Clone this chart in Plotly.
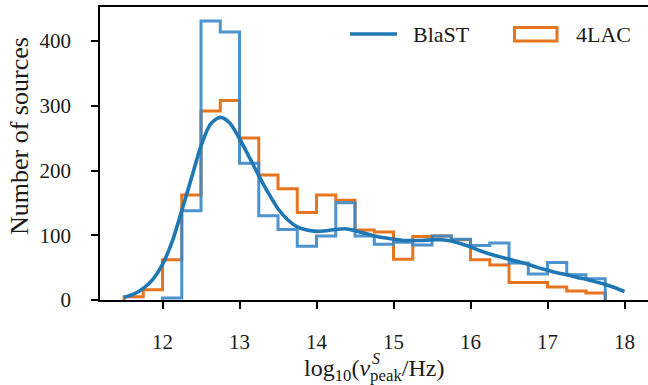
import plotly.graph_objects as go

# Histogram bins (width 0.25 in log10 frequency)
BIN_WIDTH = 0.25

blast_start = 12.0
blast_counts = [3, 138, 431, 414, 211, 130, 109, 83, 99, 150, 99, 86,
                89, 85, 99, 94, 84, 88, 57, 40, 58, 39, 33]

lac_start = 11.5
lac_counts = [5, 16, 62, 162, 292, 308, 250, 193, 172, 135, 162, 154,
              108, 105, 63, 98, 99, 93, 62, 54, 27, 27, 20, 14, 11]

# Smooth density estimate of the BlaST sample (scaled to counts), 0.125 grid
kde_x = [11.5, 11.625, 11.75, 11.875, 12.0, 12.125, 12.25, 12.375, 12.5, 12.625,
         12.75, 12.875, 13.0, 13.125, 13.25, 13.375, 13.5, 13.625, 13.75, 13.875,
         14.0, 14.125, 14.25, 14.375, 14.5, 14.625, 14.75, 14.875, 15.0, 15.125,
         15.25, 15.375, 15.5, 15.625, 15.75, 15.875, 16.0, 16.125, 16.25, 16.375,
         16.5, 16.625, 16.75, 16.875, 17.0, 17.125, 17.25, 17.375, 17.5, 17.625,
         17.75, 17.875, 18.0]
kde_y = [4, 9, 18, 32, 55, 90, 138, 188, 238, 272,
         282, 273, 249, 221, 192, 165, 141, 124, 113, 108,
         106, 107, 109, 110, 107, 103, 99, 96, 94, 92,
         92, 92, 93, 93, 91, 87, 82, 76, 71, 67,
         63, 59, 55, 50, 46, 42, 39, 35, 32, 28,
         24, 19, 13]

x_ticks = [12, 13, 14, 15, 16, 17, 18]
y_ticks = [0, 100, 200, 300, 400]

BLUE = "#1f77b4"
BLUE_HIST = "#3a88c9"
ORANGE = "#e7741f"
FONT = "Liberation Serif"
TXT = "#1a1a1a"

W, H = 648, 385
ML, MR, MT, MB = 100, 0, 7, 85
PW, PH = W - ML - MR, H - MT - MB


def px_x(p):
    return (p - ML) / PW


def px_y(p):
    return (H - MB - p) / PH


def step_outline(start, counts, width):
    xs, ys = [start], [0]
    for i, c in enumerate(counts):
        x0 = start + i * width
        xs += [x0, x0 + width]
        ys += [c, c]
    xs.append(start + len(counts) * width)
    ys.append(0)
    return xs, ys


fig = go.Figure()

lx, ly = step_outline(lac_start, lac_counts, BIN_WIDTH)
fig.add_trace(go.Scatter(x=lx, y=ly, mode="lines", name="4LAC",
                         line=dict(color=ORANGE, width=3), showlegend=False))

bx, by = step_outline(blast_start, blast_counts, BIN_WIDTH)
fig.add_trace(go.Scatter(x=bx, y=by, mode="lines", opacity=0.9,
                         line=dict(color=BLUE_HIST, width=3), showlegend=False))

fig.add_trace(go.Scatter(x=kde_x, y=kde_y, mode="lines", name="BlaST",
                         line=dict(color=BLUE, width=3.6, shape="spline", smoothing=0.8),
                         showlegend=False))

# Legend drawn by hand: line sample for BlaST, outlined patch for 4LAC
shapes = [
    dict(type="line", xref="paper", yref="paper",
         x0=px_x(350), x1=px_x(397), y0=px_y(34), y1=px_y(34),
         line=dict(color=BLUE, width=3.6)),
    dict(type="rect", xref="paper", yref="paper",
         x0=px_x(514.5), x1=px_x(557), y0=px_y(27.5), y1=px_y(41),
         line=dict(color=ORANGE, width=3), fillcolor="white"),
]

annotations = [
    dict(text="BlaST", x=px_x(411), y=px_y(34), xref="paper", yref="paper",
         xanchor="left", yanchor="middle", showarrow=False,
         font=dict(family=FONT, size=22, color=TXT)),
    dict(text="4LAC", x=px_x(574), y=px_y(34), xref="paper", yref="paper",
         xanchor="left", yanchor="middle", showarrow=False,
         font=dict(family=FONT, size=22, color=TXT)),
    dict(text="Number of sources", x=px_x(19), y=px_y(136), xref="paper", yref="paper",
         xanchor="center", yanchor="middle", textangle=-90, showarrow=False,
         font=dict(family=FONT, size=26, color=TXT)),
    # x-axis label: log10(nu_peak/Hz), superscript S added separately above nu
    dict(text="log<sub>10</sub>(<i>ν</i><sub>peak</sub>/Hz)",
         x=px_x(374), y=px_y(353), xref="paper", yref="paper",
         xanchor="center", yanchor="top", showarrow=False,
         font=dict(family=FONT, size=24, color=TXT)),
    dict(text="<i>S</i>", x=px_x(370), y=px_y(358.5), xref="paper", yref="paper",
         xanchor="left", yanchor="middle", showarrow=False,
         font=dict(family=FONT, size=16, color=TXT)),
]

axis_common = dict(
    showgrid=False, zeroline=False, showline=True, linecolor="black", linewidth=1.6,
    ticks="outside", ticklen=7, tickwidth=1.5, tickcolor="black",
    tickfont=dict(family=FONT, size=21, color=TXT),
)

fig.update_layout(
    width=W, height=H,
    margin=dict(l=ML, r=MR, t=MT, b=MB, pad=0),
    paper_bgcolor="white", plot_bgcolor="white",
    showlegend=False,
    xaxis=dict(range=[11.188, 18.305], tickvals=x_ticks, mirror=True,
               ticklabelstandoff=15, **axis_common),
    yaxis=dict(range=[0, 452.5], tickvals=y_ticks, mirror=False,
               ticklabelstandoff=16, **axis_common),
    shapes=shapes,
    annotations=annotations,
)

fig.write_html("out.html")
